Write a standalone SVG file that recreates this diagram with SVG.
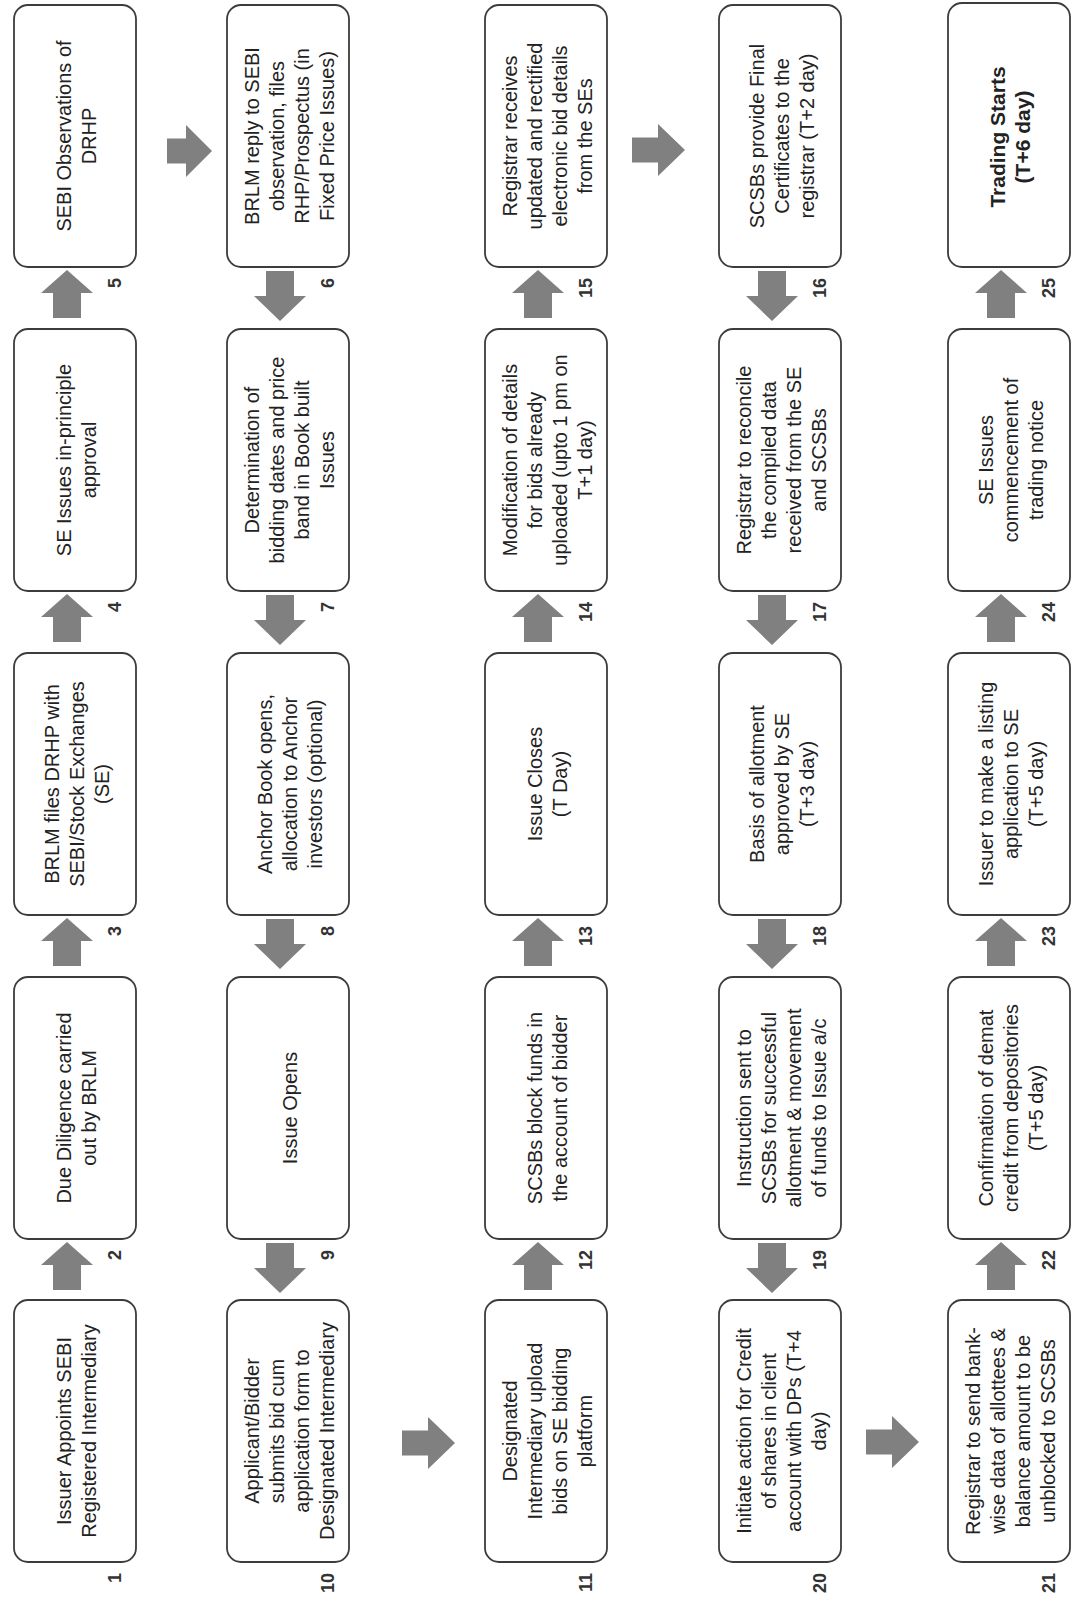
<svg xmlns="http://www.w3.org/2000/svg" width="1073" height="1607" viewBox="0 0 1073 1607">
<style>
.box{fill:#fff;stroke:#3c3c3c;stroke-width:1.8}
.t{font-family:"Liberation Sans",Arial,sans-serif;font-size:20px;fill:#222;text-anchor:middle}
.b{font-weight:bold;font-size:21px}
.n{font-family:"Liberation Sans",Arial,sans-serif;font-size:18px;font-weight:bold;fill:#333;text-anchor:end}
.arr{fill:#808080}
</style>
<defs>
<polygon id="up" points="0,3 26,26 14,26 14,51 -14,51 -14,26 -26,26"/>
<polygon id="down" points="-14,4 14,4 14,29 26,29 0,54 -26,29 -14,29"/>
<polygon id="right" points="0,-12.5 26,-12.5 26,-26 53,0 26,26 26,12.5 0,12.5"/>
<polygon id="rightS" points="0,-12.5 19,-12.5 19,-26 45,0 19,26 19,12.5 0,12.5"/>
</defs>
<rect width="1073" height="1607" fill="#fff"/>

<g id="connectors" class="arr">
<use href="#up" x="67" y="1239"/>
<use href="#up" x="67" y="915"/>
<use href="#up" x="67" y="591"/>
<use href="#up" x="67" y="267"/>
<use href="#rightS" x="167" y="151"/>
<use href="#down" x="280" y="267"/>
<use href="#down" x="280" y="591"/>
<use href="#down" x="280" y="915"/>
<use href="#down" x="280" y="1239"/>
<use href="#right" x="402" y="1443"/>
<use href="#up" x="538" y="1239"/>
<use href="#up" x="538" y="915"/>
<use href="#up" x="538" y="591"/>
<use href="#up" x="538" y="267"/>
<use href="#right" x="632" y="150"/>
<use href="#down" x="772" y="267"/>
<use href="#down" x="772" y="591"/>
<use href="#down" x="772" y="915"/>
<use href="#down" x="772" y="1239"/>
<use href="#right" x="866" y="1442"/>
<use href="#up" x="1001" y="1239"/>
<use href="#up" x="1001" y="915"/>
<use href="#up" x="1001" y="591"/>
<use href="#up" x="1001" y="267"/>
</g>

<!-- Column 1 -->
<g id="n1"><rect class="box" x="14" y="1300" width="122" height="262" rx="14"/>
<text class="t" transform="translate(75,1431) rotate(-90)"><tspan x="0" y="-4">Issuer Appoints SEBI</tspan><tspan x="0" y="21">Registered Intermediary</tspan></text>
<text class="n" transform="translate(121,1573) rotate(-90)">1</text></g>
<g id="n2"><rect class="box" x="14" y="977" width="122" height="262" rx="14"/>
<text class="t" transform="translate(75,1108) rotate(-90)"><tspan x="0" y="-4">Due Diligence carried</tspan><tspan x="0" y="21">out by BRLM</tspan></text>
<text class="n" transform="translate(121,1250) rotate(-90)">2</text></g>
<g id="n3"><rect class="box" x="14" y="653" width="122" height="262" rx="14"/>
<text class="t" transform="translate(75,784) rotate(-90)"><tspan x="0" y="-16.5">BRLM files DRHP with</tspan><tspan x="0" y="8.5">SEBI/Stock Exchanges</tspan><tspan x="0" y="33.5">(SE)</tspan></text>
<text class="n" transform="translate(121,926) rotate(-90)">3</text></g>
<g id="n4"><rect class="box" x="14" y="329" width="122" height="262" rx="14"/>
<text class="t" transform="translate(75,460) rotate(-90)"><tspan x="0" y="-4">SE Issues in-principle</tspan><tspan x="0" y="21">approval</tspan></text>
<text class="n" transform="translate(121,602) rotate(-90)">4</text></g>
<g id="n5"><rect class="box" x="14" y="5" width="122" height="262" rx="14"/>
<text class="t" transform="translate(75,136) rotate(-90)"><tspan x="0" y="-4">SEBI Observations of</tspan><tspan x="0" y="21">DRHP</tspan></text>
<text class="n" transform="translate(121,278) rotate(-90)">5</text></g>

<!-- Column 2 -->
<g id="n6"><rect class="box" x="227" y="5" width="122" height="262" rx="14"/>
<text class="t" transform="translate(288,136) rotate(-90)"><tspan x="0" y="-29">BRLM reply to SEBI</tspan><tspan x="0" y="-4">observation, files</tspan><tspan x="0" y="21">RHP/Prospectus (in</tspan><tspan x="0" y="46">Fixed Price Issues)</tspan></text>
<text class="n" transform="translate(334,278) rotate(-90)">6</text></g>
<g id="n7"><rect class="box" x="227" y="329" width="122" height="262" rx="14"/>
<text class="t" transform="translate(288,460) rotate(-90)"><tspan x="0" y="-29">Determination of</tspan><tspan x="0" y="-4">bidding dates and price</tspan><tspan x="0" y="21">band in Book built</tspan><tspan x="0" y="46">Issues</tspan></text>
<text class="n" transform="translate(334,602) rotate(-90)">7</text></g>
<g id="n8"><rect class="box" x="227" y="653" width="122" height="262" rx="14"/>
<text class="t" transform="translate(288,784) rotate(-90)"><tspan x="0" y="-16.5">Anchor Book opens,</tspan><tspan x="0" y="8.5">allocation to Anchor</tspan><tspan x="0" y="33.5">investors (optional)</tspan></text>
<text class="n" transform="translate(334,926) rotate(-90)">8</text></g>
<g id="n9"><rect class="box" x="227" y="977" width="122" height="262" rx="14"/>
<text class="t" transform="translate(288,1108) rotate(-90)"><tspan x="0" y="8.5">Issue Opens</tspan></text>
<text class="n" transform="translate(334,1250) rotate(-90)">9</text></g>
<g id="n10"><rect class="box" x="227" y="1300" width="122" height="262" rx="14"/>
<text class="t" transform="translate(288,1431) rotate(-90)"><tspan x="0" y="-29">Applicant/Bidder</tspan><tspan x="0" y="-4">submits bid cum</tspan><tspan x="0" y="21">application form to</tspan><tspan x="0" y="46">Designated Intermediary</tspan></text>
<text class="n" transform="translate(334,1573) rotate(-90)">10</text></g>

<!-- Column 3 -->
<g id="n11"><rect class="box" x="485" y="1300" width="122" height="262" rx="14"/>
<text class="t" transform="translate(546,1431) rotate(-90)"><tspan x="0" y="-29">Designated</tspan><tspan x="0" y="-4">Intermediary upload</tspan><tspan x="0" y="21">bids on SE bidding</tspan><tspan x="0" y="46">platform</tspan></text>
<text class="n" transform="translate(592,1573) rotate(-90)">11</text></g>
<g id="n12"><rect class="box" x="485" y="977" width="122" height="262" rx="14"/>
<text class="t" transform="translate(546,1108) rotate(-90)"><tspan x="0" y="-4">SCSBs block funds in</tspan><tspan x="0" y="21">the account of bidder</tspan></text>
<text class="n" transform="translate(592,1250) rotate(-90)">12</text></g>
<g id="n13"><rect class="box" x="485" y="653" width="122" height="262" rx="14"/>
<text class="t" transform="translate(546,784) rotate(-90)"><tspan x="0" y="-4">Issue Closes</tspan><tspan x="0" y="21">(T Day)</tspan></text>
<text class="n" transform="translate(592,926) rotate(-90)">13</text></g>
<g id="n14"><rect class="box" x="485" y="329" width="122" height="262" rx="14"/>
<text class="t" transform="translate(546,460) rotate(-90)"><tspan x="0" y="-29">Modification of details</tspan><tspan x="0" y="-4">for bids already</tspan><tspan x="0" y="21">uploaded (upto 1 pm on</tspan><tspan x="0" y="46">T+1 day)</tspan></text>
<text class="n" transform="translate(592,602) rotate(-90)">14</text></g>
<g id="n15"><rect class="box" x="485" y="5" width="122" height="262" rx="14"/>
<text class="t" transform="translate(546,136) rotate(-90)"><tspan x="0" y="-29">Registrar receives</tspan><tspan x="0" y="-4">updated and rectified</tspan><tspan x="0" y="21">electronic bid details</tspan><tspan x="0" y="46">from the SEs</tspan></text>
<text class="n" transform="translate(592,278) rotate(-90)">15</text></g>

<!-- Column 4 -->
<g id="n16"><rect class="box" x="719" y="5" width="122" height="262" rx="14"/>
<text class="t" transform="translate(780,136) rotate(-90)"><tspan x="0" y="-16.5">SCSBs provide Final</tspan><tspan x="0" y="8.5">Certificates to the</tspan><tspan x="0" y="33.5">registrar (T+2 day)</tspan></text>
<text class="n" transform="translate(826,278) rotate(-90)">16</text></g>
<g id="n17"><rect class="box" x="719" y="329" width="122" height="262" rx="14"/>
<text class="t" transform="translate(780,460) rotate(-90)"><tspan x="0" y="-29">Registrar to reconcile</tspan><tspan x="0" y="-4">the compiled data</tspan><tspan x="0" y="21">received from the SE</tspan><tspan x="0" y="46">and SCSBs</tspan></text>
<text class="n" transform="translate(826,602) rotate(-90)">17</text></g>
<g id="n18"><rect class="box" x="719" y="653" width="122" height="262" rx="14"/>
<text class="t" transform="translate(780,784) rotate(-90)"><tspan x="0" y="-16.5">Basis of allotment</tspan><tspan x="0" y="8.5">approved by SE</tspan><tspan x="0" y="33.5">(T+3 day)</tspan></text>
<text class="n" transform="translate(826,926) rotate(-90)">18</text></g>
<g id="n19"><rect class="box" x="719" y="977" width="122" height="262" rx="14"/>
<text class="t" transform="translate(780,1108) rotate(-90)"><tspan x="0" y="-29">Instruction sent to</tspan><tspan x="0" y="-4">SCSBs for successful</tspan><tspan x="0" y="21">allotment &amp; movement</tspan><tspan x="0" y="46">of funds to Issue a/c</tspan></text>
<text class="n" transform="translate(826,1250) rotate(-90)">19</text></g>
<g id="n20"><rect class="box" x="719" y="1300" width="122" height="262" rx="14"/>
<text class="t" transform="translate(780,1431) rotate(-90)"><tspan x="0" y="-29">Initiate action for Credit</tspan><tspan x="0" y="-4">of shares in client</tspan><tspan x="0" y="21">account with DPs (T+4</tspan><tspan x="0" y="46">day)</tspan></text>
<text class="n" transform="translate(826,1573) rotate(-90)">20</text></g>

<!-- Column 5 -->
<g id="n21"><rect class="box" x="948" y="1300" width="122" height="262" rx="14"/>
<text class="t" transform="translate(1009,1431) rotate(-90)"><tspan x="0" y="-29">Registrar to send bank-</tspan><tspan x="0" y="-4">wise data of allottees &amp;</tspan><tspan x="0" y="21">balance amount to be</tspan><tspan x="0" y="46">unblocked to SCSBs</tspan></text>
<text class="n" transform="translate(1055,1573) rotate(-90)">21</text></g>
<g id="n22"><rect class="box" x="948" y="977" width="122" height="262" rx="14"/>
<text class="t" transform="translate(1009,1108) rotate(-90)"><tspan x="0" y="-16.5">Confirmation of demat</tspan><tspan x="0" y="8.5">credit from depositories</tspan><tspan x="0" y="33.5">(T+5 day)</tspan></text>
<text class="n" transform="translate(1055,1250) rotate(-90)">22</text></g>
<g id="n23"><rect class="box" x="948" y="653" width="122" height="262" rx="14"/>
<text class="t" transform="translate(1009,784) rotate(-90)"><tspan x="0" y="-16.5">Issuer to make a listing</tspan><tspan x="0" y="8.5">application to SE</tspan><tspan x="0" y="33.5">(T+5 day)</tspan></text>
<text class="n" transform="translate(1055,926) rotate(-90)">23</text></g>
<g id="n24"><rect class="box" x="948" y="329" width="122" height="262" rx="14"/>
<text class="t" transform="translate(1009,460) rotate(-90)"><tspan x="0" y="-16.5">SE Issues</tspan><tspan x="0" y="8.5">commencement of</tspan><tspan x="0" y="33.5">trading notice</tspan></text>
<text class="n" transform="translate(1055,602) rotate(-90)">24</text></g>
<g id="n25"><rect class="box" x="948" y="3" width="122" height="264" rx="14"/>
<text class="t b" transform="translate(1009,137) rotate(-90)"><tspan x="0" y="-4">Trading Starts</tspan><tspan x="0" y="21">(T+6 day)</tspan></text>
<text class="n" transform="translate(1055,278) rotate(-90)">25</text></g>
</svg>
